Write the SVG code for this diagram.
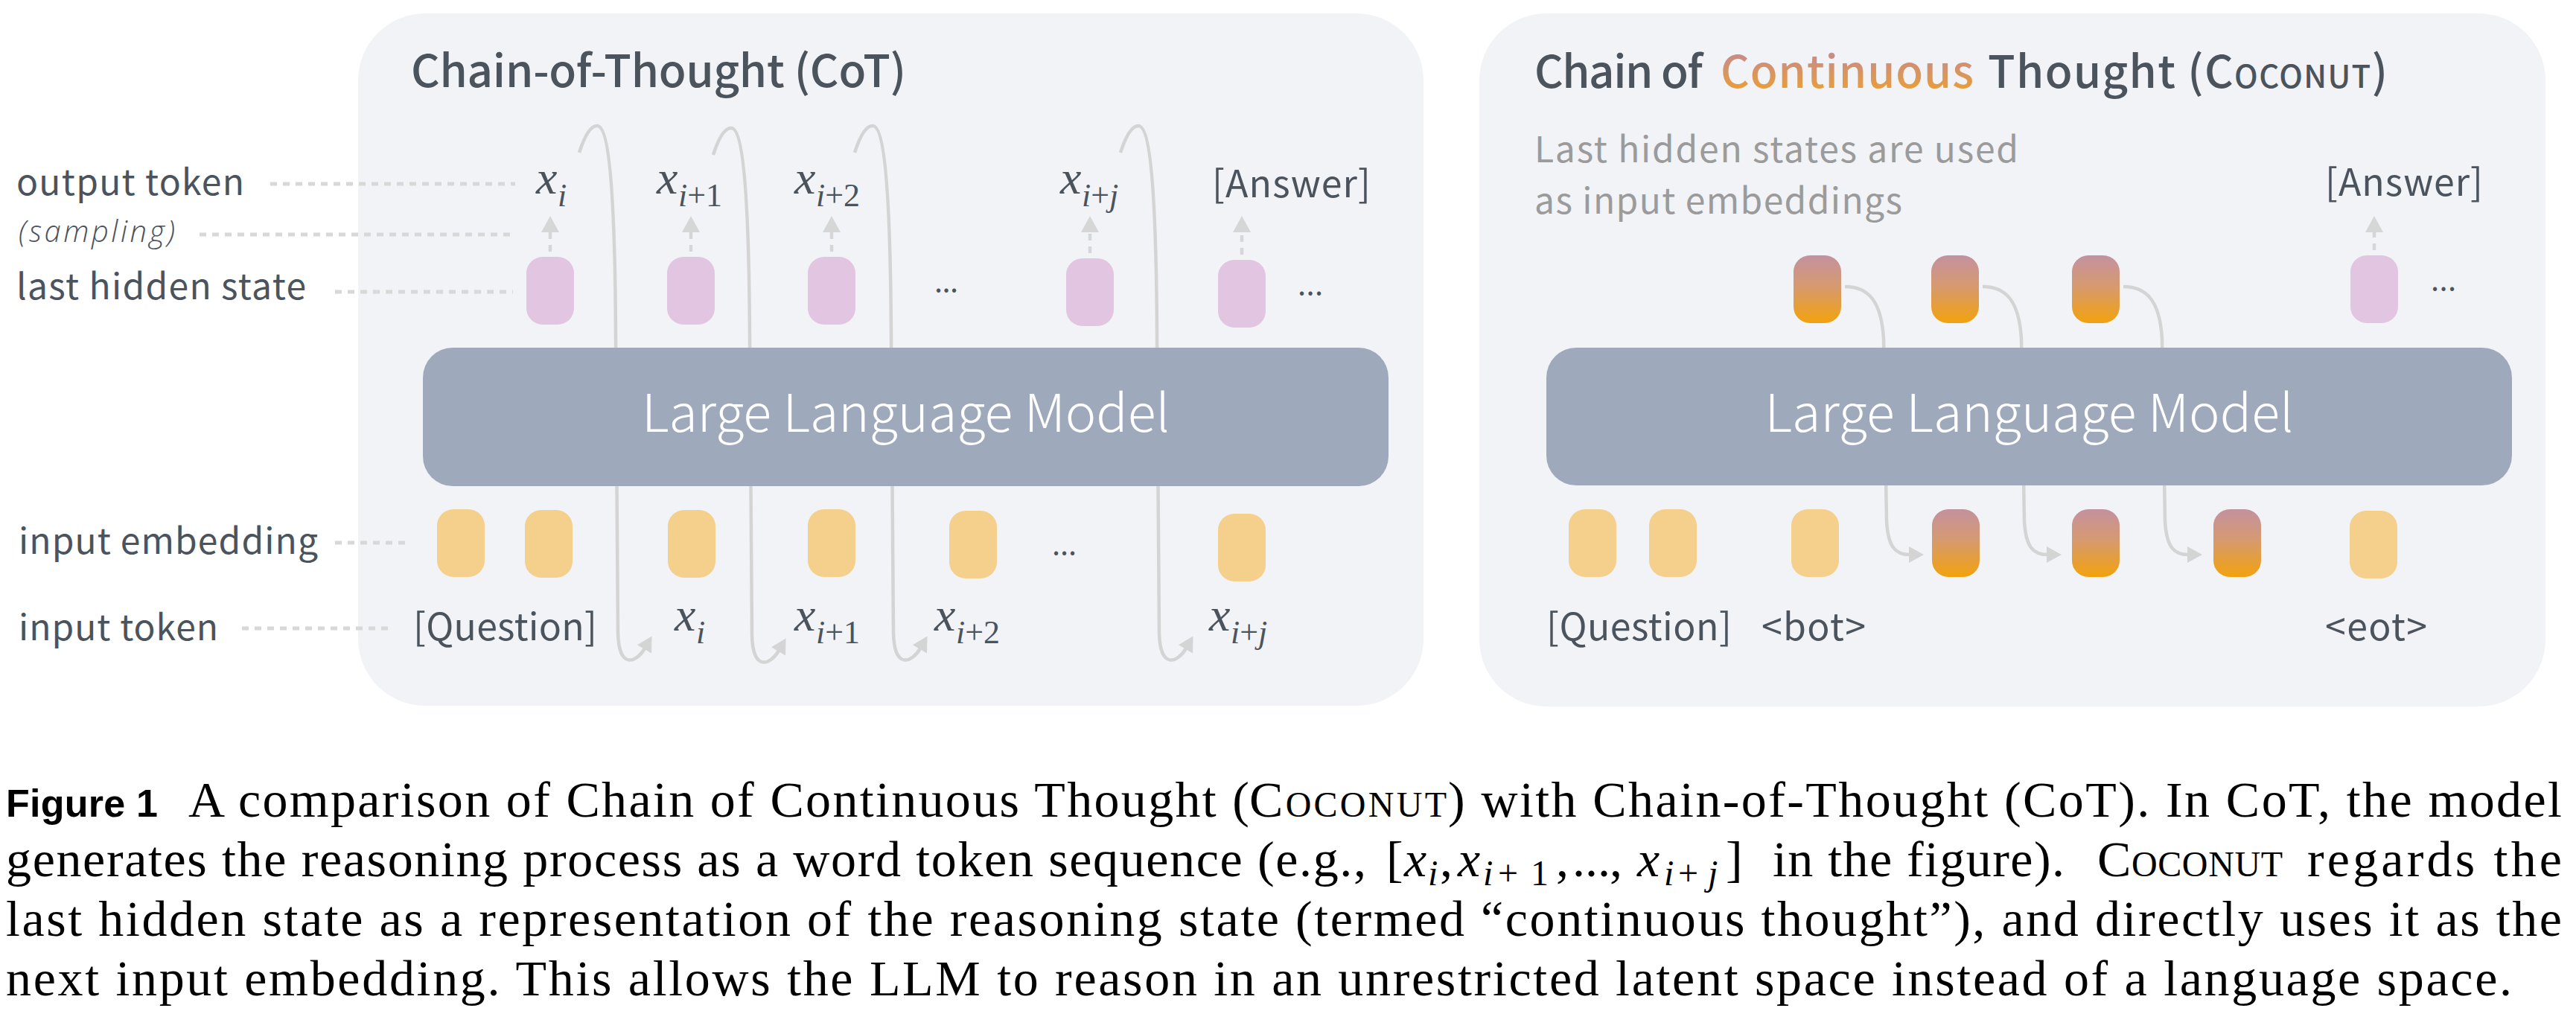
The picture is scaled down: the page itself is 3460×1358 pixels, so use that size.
<svg xmlns="http://www.w3.org/2000/svg" width="3460" height="1358" viewBox="0 0 3460 1358">
<style>
.sans{font-family:"Noto Sans CJK KR","Noto Sans","Liberation Sans",sans-serif;fill:#4B535D}
.title{font-size:60px;font-weight:500}
.lbl{font-size:48px}
.tok{font-size:50px}
.llm{font-size:70px;fill:#FFFFFF;font-weight:300}
.hint{font-size:48px;fill:#9B9B9B}
.samp{font-family:"Open Sans","Noto Sans",sans-serif;font-style:italic;font-weight:300;font-size:40px;fill:#4B535D}
.m{font-family:"Liberation Serif","DejaVu Serif",serif;font-style:italic;font-size:64px;fill:#4B535D}
.sub{font-size:44px}
.up{font-style:normal}
.dots{font-size:40px}
.cap{font-family:"Liberation Serif","DejaVu Serif",serif;font-size:68px;fill:#000000}
.cm{font-style:italic}
.csub{font-size:48px}
.capb{font-family:"Liberation Sans",Arial,sans-serif;font-weight:700;font-size:52px;fill:#000000}
.sc{font-variant:small-caps}
.dotline{stroke:#D8D8D8;stroke-width:5;stroke-dasharray:9 8;fill:none}
.samparrow{stroke:#D6D6D6;stroke-width:4.5;stroke-dasharray:9 8;fill:none}
.flow{fill:none;stroke:#D4D4D4;stroke-width:4.5}
.panel{fill:#F1F3F7}
.llmbox{fill:#9EAABB}
.pink{fill:#E2C5E0}
.orange{fill:#F4D08C}
.grad{fill:url(#pillGrad)}
</style>
<defs>
<linearGradient id="pillGrad" x1="0" y1="0" x2="0" y2="1">
<stop offset="0" stop-color="#C3919F"/>
<stop offset="0.45" stop-color="#D69A70"/>
<stop offset="1" stop-color="#F2A20C"/>
</linearGradient>
<linearGradient id="textGrad" gradientUnits="userSpaceOnUse" x1="0" y1="75" x2="0" y2="130">
<stop offset="0" stop-color="#C98C86"/>
<stop offset="1" stop-color="#EFA12A"/>
</linearGradient>
<marker id="headUp" markerUnits="userSpaceOnUse" markerWidth="24" markerHeight="24" viewBox="0 0 22 24" refX="0" refY="12" orient="auto">
<path d="M0,0 L22,12 L0,24 z" fill="#D6D6D6"/>
</marker>
<marker id="headFlow" markerUnits="userSpaceOnUse" markerWidth="22" markerHeight="22" viewBox="0 0 20 22" refX="1" refY="11" orient="auto">
<path d="M0,0 L20,11 L0,22 z" fill="#D4D4D4"/>
</marker>
<rect id="pill" width="64" height="91" rx="22"/>
</defs>

<g id="panels">
<rect id="cot-panel" class="panel" x="481" y="18" width="1431" height="930" rx="90"/>
<rect id="coconut-panel" class="panel" x="1987" y="18" width="1432" height="931" rx="90"/>
</g>

<g id="row-labels">
<text class="sans lbl" x="22" y="262" textLength="306">output token</text>
<text class="samp" x="25" y="325" textLength="210">(sampling)</text>
<text class="sans lbl" x="22" y="402" textLength="389">last hidden state</text>
<text class="sans lbl" x="25" y="744" textLength="402">input embedding</text>
<text class="sans lbl" x="25" y="860" textLength="268">input token</text>
</g>

<g id="titles">
<text class="sans title" x="552" y="117" textLength="665">Chain-of-Thought (CoT)</text>
<text class="sans title" x="2061" y="118" textLength="226">Chain of</text>
<text class="sans title" x="2311" y="118" textLength="340" style="fill:url(#textGrad)">Continuous</text>
<text class="sans title" x="2670" y="118" textLength="537">Thought (<tspan class="sc">Coconut</tspan>)</text>
<text class="sans hint" x="2061" y="218" textLength="650">Last hidden states are used</text>
<text class="sans hint" x="2061" y="287" textLength="494">as input embeddings</text>
</g>

<g id="connectors">
<line class="dotline" x1="363" y1="247" x2="692" y2="247"/>
<line class="dotline" x1="268" y1="315" x2="692" y2="315"/>
<line class="dotline" x1="450" y1="392" x2="689" y2="392"/>
<line class="dotline" x1="450" y1="729" x2="552" y2="729"/>
<line class="dotline" x1="325" y1="844" x2="524" y2="844"/>
<line class="samparrow" x1="739" y1="338" x2="739" y2="312" marker-end="url(#headUp)"/>
<line class="samparrow" x1="928" y1="338" x2="928" y2="312" marker-end="url(#headUp)"/>
<line class="samparrow" x1="1117" y1="338" x2="1117" y2="312" marker-end="url(#headUp)"/>
<line class="samparrow" x1="1464" y1="340" x2="1464" y2="312" marker-end="url(#headUp)"/>
<line class="samparrow" x1="1668" y1="342" x2="1668" y2="312" marker-end="url(#headUp)"/>
<line class="samparrow" x1="3189" y1="336" x2="3189" y2="312" marker-end="url(#headUp)"/>
<path id="loop1" class="flow" d="M778 205 C786 180 794 169 802 169 C818 169 826 260 827 450 L830 850 C831 900 855 890 866 871" marker-end="url(#headFlow)"/>
<path id="loop2" class="flow" transform="translate(180,3)" d="M778 205 C786 180 794 169 802 169 C818 169 826 260 827 450 L830 850 C831 900 855 890 866 871" marker-end="url(#headFlow)"/>
<path id="loop3" class="flow" transform="translate(370,0)" d="M778 205 C786 180 794 169 802 169 C818 169 826 260 827 450 L830 850 C831 900 855 890 866 871" marker-end="url(#headFlow)"/>
<path id="loop4" class="flow" transform="translate(727,0)" d="M778 205 C786 180 794 169 802 169 C818 169 826 260 827 450 L830 850 C831 900 855 890 866 871" marker-end="url(#headFlow)"/>
<path id="feed1" class="flow" d="M2478 385 C2510 385 2527 405 2530 455 L2534 700 C2536 735 2546 745 2565 745" marker-end="url(#headFlow)"/>
<path id="feed2" class="flow" transform="translate(185,0)" d="M2478 385 C2510 385 2527 405 2530 455 L2534 700 C2536 735 2546 745 2565 745" marker-end="url(#headFlow)"/>
<path id="feed3" class="flow" transform="translate(374,0)" d="M2478 385 C2510 385 2527 405 2530 455 L2534 700 C2536 735 2546 745 2565 745" marker-end="url(#headFlow)"/>
</g>

<g id="cot-llm">
<rect class="llmbox" x="568" y="467" width="1297" height="186" rx="40"/>
<text class="sans llm" x="1216.5" y="580" text-anchor="middle" textLength="709">Large Language Model</text>
</g>
<g id="coconut-llm">
<rect class="llmbox" x="2077" y="467" width="1297" height="185" rx="40"/>
<text class="sans llm" x="2725.5" y="580" text-anchor="middle" textLength="710">Large Language Model</text>
</g>

<g id="cot-hidden">
<use href="#pill" class="pink" x="707" y="345"/>
<use href="#pill" class="pink" x="896" y="345"/>
<use href="#pill" class="pink" x="1085" y="345"/>
<use href="#pill" class="pink" x="1432" y="347"/>
<use href="#pill" class="pink" x="1636" y="349"/>
</g>
<g id="cot-embed">
<use href="#pill" class="orange" x="587" y="684"/>
<use href="#pill" class="orange" x="705" y="685"/>
<use href="#pill" class="orange" x="897" y="685"/>
<use href="#pill" class="orange" x="1085" y="684"/>
<use href="#pill" class="orange" x="1275" y="686"/>
<use href="#pill" class="orange" x="1636" y="690"/>
</g>
<g id="coconut-hidden">
<use href="#pill" class="grad" x="2409" y="343"/>
<use href="#pill" class="grad" x="2594" y="343"/>
<use href="#pill" class="grad" x="2783" y="343"/>
<use href="#pill" class="pink" x="3157" y="343"/>
</g>
<g id="coconut-embed">
<use href="#pill" class="orange" x="2107" y="684"/>
<use href="#pill" class="orange" x="2215" y="684"/>
<use href="#pill" class="orange" x="2406" y="684"/>
<use href="#pill" class="grad" x="2595" y="684"/>
<use href="#pill" class="grad" x="2783" y="684"/>
<use href="#pill" class="grad" x="2973" y="684"/>
<use href="#pill" class="orange" x="3156" y="686"/>
</g>

<g id="cot-output-tokens">
<text class="m" x="720" y="260">x<tspan class="sub" x="749" y="277">i</tspan></text>
<text class="m" x="882" y="260">x<tspan class="sub" x="911" y="277">i<tspan class="up">+1</tspan></tspan></text>
<text class="m" x="1067" y="260">x<tspan class="sub" x="1096" y="277">i<tspan class="up">+2</tspan></tspan></text>
<text class="m" x="1424" y="260">x<tspan class="sub" x="1453" y="277">i<tspan class="up">+</tspan>j</tspan></text>
<text class="sans tok" x="1628" y="265" textLength="213">[Answer]</text>
<text class="sans dots" x="1255" y="392" textLength="32">...</text>
<text class="sans dots" x="1743" y="396" textLength="34">...</text>
</g>
<g id="cot-input-tokens">
<text class="sans tok" x="555" y="860" textLength="247">[Question]</text>
<text class="m" x="906" y="847">x<tspan class="sub" x="935" y="864">i</tspan></text>
<text class="m" x="1067" y="847">x<tspan class="sub" x="1096" y="864">i<tspan class="up">+1</tspan></tspan></text>
<text class="m" x="1255" y="847">x<tspan class="sub" x="1284" y="864">i<tspan class="up">+2</tspan></tspan></text>
<text class="m" x="1624" y="847">x<tspan class="sub" x="1653" y="864">i<tspan class="up">+</tspan>j</tspan></text>
<text class="sans dots" x="1413" y="745" textLength="33">...</text>
</g>
<g id="coconut-tokens">
<text class="sans tok" x="3123" y="263" textLength="212">[Answer]</text>
<text class="sans dots" x="3265" y="390" textLength="34">...</text>
<text class="sans tok" x="2077" y="860" textLength="249">[Question]</text>
<text class="sans tok" x="2366" y="860" textLength="140">&lt;bot&gt;</text>
<text class="sans tok" x="3123" y="860" textLength="137">&lt;eot&gt;</text>
</g>

<g id="caption">
<text class="capb" x="8" y="1097" textLength="204">Figure 1</text>
<text class="cap" x="253" y="1097" textLength="1425">A comparison of Chain of Continuous Thought (</text>
<text class="cap sc" x="1678" y="1097" textLength="265">Coconut</text>
<text class="cap" x="1945" y="1097" textLength="1496">) with Chain-of-Thought (CoT). In CoT, the model</text>
<text class="cap" x="8" y="1177" textLength="1827">generates the reasoning process as a word token sequence (e.g.,</text>
<text class="cap">
<tspan x="1862" y="1177">[</tspan><tspan class="cm" x="1886" y="1177">x</tspan><tspan class="cm csub" x="1918" y="1189">i</tspan><tspan x="1934" y="1177">,</tspan><tspan class="cm" x="1958" y="1177">x</tspan><tspan class="cm csub" x="1992" y="1189">i</tspan><tspan class="csub" x="2012" y="1189">+</tspan><tspan class="csub" x="2056" y="1189">1</tspan><tspan x="2090" y="1177">,</tspan><tspan x="2112" y="1177">...</tspan><tspan x="2162" y="1177">,</tspan><tspan class="cm" x="2199" y="1177">x</tspan><tspan class="cm csub" x="2235" y="1189">i</tspan><tspan class="csub" x="2254" y="1189">+</tspan><tspan class="cm csub" x="2294" y="1189">j</tspan><tspan x="2318" y="1177">]</tspan>
</text>
<text class="cap" x="2381" y="1177" textLength="392">in the figure).</text>
<text class="cap sc" x="2817" y="1177" textLength="249">Coconut</text>
<text class="cap" x="3099" y="1177" textLength="342">regards the</text>
<text class="cap" x="8" y="1257" textLength="3433">last hidden state as a representation of the reasoning state (termed “continuous thought”), and directly uses it as the</text>
<text class="cap" x="8" y="1337" textLength="3366">next input embedding. This allows the LLM to reason in an unrestricted latent space instead of a language space.</text>
</g>
</svg>
